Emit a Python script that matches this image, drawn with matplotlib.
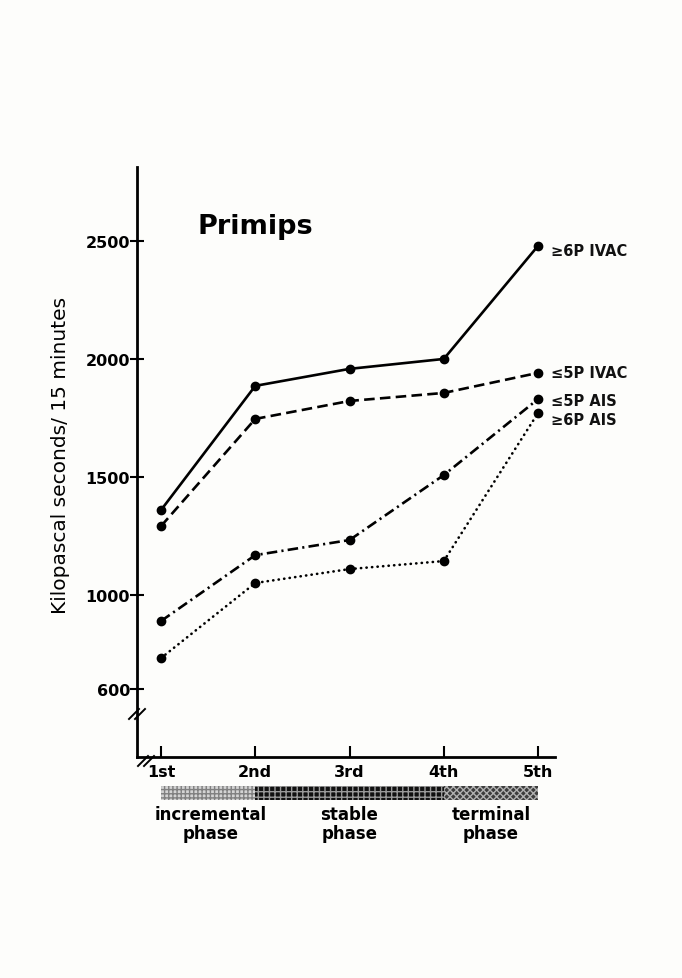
import matplotlib
matplotlib.use("Agg")
import matplotlib.pyplot as plt
from matplotlib.patches import Rectangle

# ---- data ----
stages = ["1st", "2nd", "3rd", "4th", "5th"]
x_pos = [1, 2, 3, 4, 5]
ge6p_ivac = [1360, 1886, 1958, 2000, 2479]
le5p_ivac = [1292, 1746, 1822, 1856, 1941]
le5p_ais = [890, 1169, 1233, 1508, 1830]
ge6p_ais = [733, 1051, 1110, 1144, 1771]
series_labels = ["≥6P IVAC", "≤5P IVAC", "≤5P AIS", "≥6P AIS"]
y_ticks = [600, 1000, 1500, 2000, 2500]
phases = ["incremental\nphase", "stable\nphase", "terminal\nphase"]
phase_bounds = [(1, 2), (2, 4), (4, 5)]

W, H = 682, 979
fig = plt.figure(figsize=(W / 100, H / 100), dpi=100)
fig.patch.set_facecolor("#fdfdfb")

L, R, B, T = 137, 555, 758, 168
ax = fig.add_axes([L / W, 1 - B / H, (R - L) / W, (B - T) / H])
ax.set_facecolor("none")
ax.set_xlim(0.745, 5.18)
ax.set_ylim(314, 2813)

lw = 1.9
common = dict(color="black", marker="o", markersize=6, lw=lw)
ax.plot(x_pos, ge6p_ivac, linestyle="-", **common)
ax.plot(x_pos, le5p_ivac, linestyle=(0, (4, 2)), **common)
ax.plot(x_pos, le5p_ais, linestyle=(0, (4, 1.6, 0.8, 1.6)), **common)
ax.plot(x_pos, ge6p_ais, linestyle=(0, (0.1, 2.0)), dash_capstyle="round", **common)

label_dy = [-3, 0, -1, -5]
for lab, ser, dy in zip(series_labels, [ge6p_ivac, le5p_ivac, le5p_ais, ge6p_ais], label_dy):
    ax.annotate(lab, xy=(5, ser[-1]), xytext=(9, dy), textcoords="offset points",
                ha="left", va="center", fontsize=10.5, fontweight="bold", color="#111")

for s in ["top", "right"]:
    ax.spines[s].set_visible(False)
for s in ["left", "bottom"]:
    ax.spines[s].set_linewidth(2.0)

ax.set_yticks(y_ticks)
ax.set_yticklabels([str(v) for v in y_ticks])
ax.set_xticks(x_pos)
ax.set_xticklabels(stages)
ax.tick_params(axis="y", direction="inout", length=10, width=1.5, pad=0, labelsize=11.5)
ax.tick_params(axis="x", direction="in", length=8, width=1.5, pad=5, labelsize=11.5)
for t in ax.get_xticklabels() + ax.get_yticklabels():
    t.set_fontweight("bold")

ax.set_ylabel("Kilopascal seconds/ 15 minutes", fontsize=14.5)
ax.yaxis.set_label_coords((70 - L) / (R - L), (B - 455) / (B - T))

ax.text(0.145, 0.9, "Primips", transform=ax.transAxes, fontsize=19.5, fontweight="bold",
        ha="left", va="center")

# axis break marks
def brk(px, py):
    for off in (-3, 3):
        fig.add_artist(plt.Line2D([(px - 5 + off) / W, (px + 5 + off) / W],
                                  [1 - (py + 5) / H, 1 - (py - 5) / H],
                                  color="black", lw=1.4))
brk(137, 715)
brk(146, 762)

# phase bars
bx = fig.add_axes([L / W, 1 - 801 / H, (R - L) / W, 14 / H])
bx.set_xlim(ax.get_xlim())
bx.set_ylim(0, 1)
bx.axis("off")
styles = [dict(facecolor="#d4d4d4", hatch="++++", edgecolor="#808080"),
          dict(facecolor="#111111", hatch="+++", edgecolor="#9a9a9a"),
          dict(facecolor="#3c3c3c", hatch="xxxxx", edgecolor="#b0b0b0")]
for (a, b), st in zip(phase_bounds, styles):
    bx.add_patch(Rectangle((a, 0), b - a, 1, lw=0, **st))

phase_x = [(1 + 2) / 2 + 0.03, 3, 4.5]
for px, txt in zip(phase_x, phases):
    x_fig = (L + (px - 0.745) / (5.18 - 0.745) * (R - L)) / W
    fig.text(x_fig, 1 - 806 / H, txt, ha="center", va="top", fontsize=12,
             linespacing=1.1, fontweight="bold")

fig.savefig("out.png", dpi=100, facecolor=fig.get_facecolor())
